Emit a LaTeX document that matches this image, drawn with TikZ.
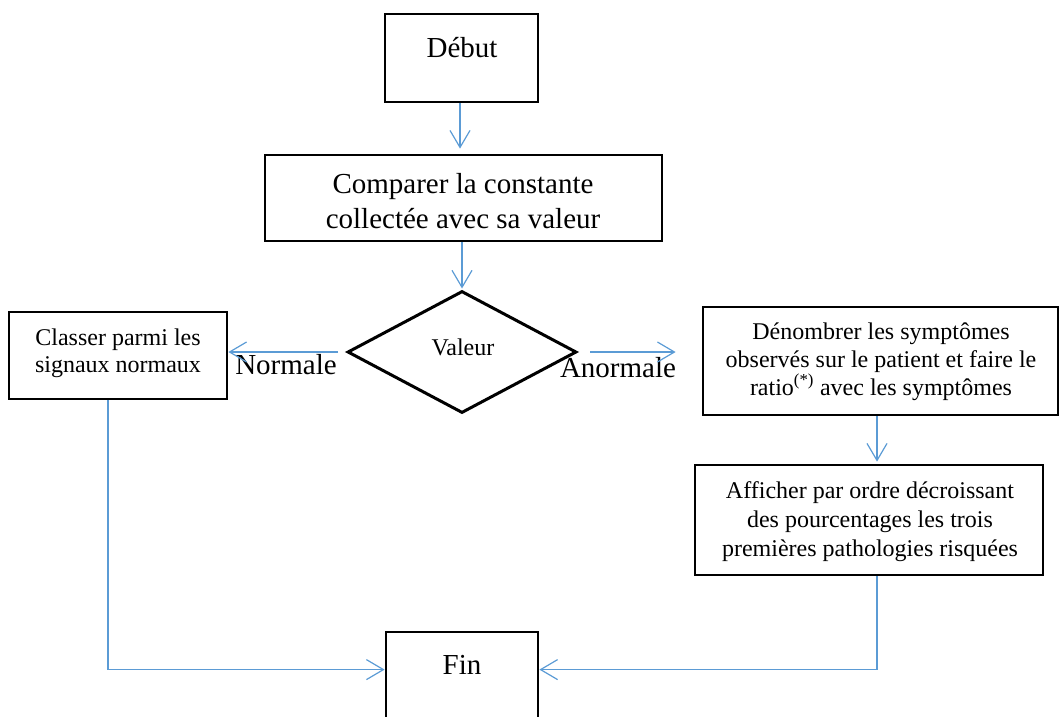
\documentclass[tikz,border=0pt]{standalone}
\usepackage{fontspec}
\setmainfont{Liberation Serif}
\usetikzlibrary{arrows.meta,shapes.geometric,calc}
\definecolor{conncol}{RGB}{91,155,213}
\begin{document}
\begin{tikzpicture}[x=1pt,y=-1pt,
  box/.style={draw=black, line width=2.8pt, inner sep=0pt},
  conn/.style={draw=conncol, line width=1.2pt, -{Straight Barb[length=17pt,width=20pt,line width=1.2pt]}},
  big/.style={font=\fontsize{29}{35}\selectfont, anchor=base, inner sep=0pt},
  small/.style={font=\fontsize{24}{28}\selectfont, anchor=base, inner sep=0pt}]
\useasboundingbox (0,0) rectangle (1059,716);

% boxes
\node[box, minimum width=153pt, minimum height=88pt] (debut) at (461.5,58) {};
\node[box, minimum width=397pt, minimum height=86pt] (cmp) at (463.5,198) {};
\node[draw=black, line width=3pt, diamond, aspect=1.877, inner sep=0pt,
      minimum width=229pt, minimum height=122pt] (dia) at (462,352) {};
\node[box, minimum width=218pt, minimum height=87pt] (lbox) at (118,355.5) {};
\node[box, minimum width=355pt, minimum height=108pt] (r1) at (880.5,361) {};
\node[box, minimum width=348pt, minimum height=110pt] (r2) at (869,520) {};
\node[box, minimum width=152pt, minimum height=108pt] (fin) at (462,686) {};

% texts
\node[big] (tdebut) at (462,57) {Début};
\node[big] (tcmp1) at (463,193) {Comparer la constante};
\node[big] (tcmp2) at (463,228) {collectée avec sa valeur};
\node[small] (tval) at (463,355) {Valeur};
\node[small] (tl1) at (118,345) {Classer parmi les};
\node[small] (tl2) at (118,372) {signaux normaux};
\node[big] (tnorm) at (286,374) {Normale};
\node[big] (tanorm) at (618,377) {Anormale};
\node[small] (tr11) at (881,339) {Dénombrer les symptômes};
\node[small] (tr12) at (881,367) {observés sur le patient et faire le};
\node[small] (tr13) at (881,395) {ratio\textsuperscript{(*)} avec les symptômes};
\node[small] (tr21) at (870,498) {Afficher par ordre décroissant};
\node[small] (tr22) at (870,527) {des pourcentages les trois};
\node[small] (tr23) at (870,556) {premières pathologies risquées};
\node[big] (tfin) at (462,674) {Fin};

% connectors
\coordinate (finL) at ($(fin.north west)+(0,39)$);
\coordinate (finR) at ($(fin.north east)+(0,39)$);
\draw[conn, shorten >=5pt] ([xshift=-1.5pt]debut.south) -- ([xshift=-1.5pt]debut.south |- cmp.north);
\draw[conn, shorten >=1pt] (cmp.south -| dia.north) -- (dia.north);
\draw[conn] ([xshift=-8pt]dia.west) -- (lbox.east |- dia.west);
\draw[conn] ([xshift=12pt]dia.east) -- ([xshift=-26pt]r1.west |- dia.east);
\draw[conn, shorten >=2pt] ([xshift=-3.5pt]r1.south) -- ([xshift=-3.5pt]r1.south |- r2.north);
\draw[conn] ([xshift=-10pt]lbox.south) |- (finL);
\draw[conn] ([xshift=8pt]r2.south) |- (finR);
\end{tikzpicture}
\end{document}
